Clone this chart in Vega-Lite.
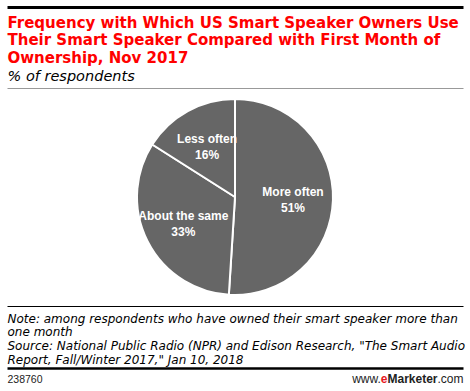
{
  "$schema": "https://vega.github.io/schema/vega-lite/v6.json",
  "width": 456,
  "height": 218,
  "autosize": {"type": "none"},
  "padding": {"left": 7, "right": 7, "top": 88, "bottom": 85},
  "background": "white",
  "config": {
    "view": {"stroke": null},
    "axis": {"grid": false, "ticks": false, "labels": false, "tickSize": 0}
  },
  "data": {
    "values": [
      {"category": "More often", "share": 0.51, "idx": 1},
      {"category": "About the same", "share": 0.33, "idx": 2},
      {"category": "Less often", "share": 0.16, "idx": 3}
    ]
  },
  "layer": [
    {
      "mark": {"type": "point", "opacity": 0},
      "encoding": {
        "x": {"field": "share", "type": "quantitative", "scale": {"domain": [0, 1], "nice": false, "zero": false},
          "axis": {"orient": "bottom", "offset": -299, "domain": true, "domainColor": "#000000", "domainWidth": 3,
            "title": ["Frequency with Which US Smart Speaker Owners Use", "Their Smart Speaker Compared with First Month of", "Ownership, Nov 2017"],
            "titleFont": "DejaVu Sans", "titleFontSize": 15, "titleFontWeight": "bold", "titleColor": "#ff0000",
            "titleLineHeight": 17.5, "titleAnchor": "start", "titleAlign": "left", "titleBaseline": "alphabetic", "titlePadding": 20}}
      }
    },
    {
      "mark": {"type": "point", "opacity": 0},
      "encoding": {
        "x": {"field": "share", "type": "quantitative", "scale": {"domain": [0, 1], "nice": false, "zero": false},
          "axis": {"orient": "top", "offset": 0, "domain": true, "domainColor": "#999999", "domainWidth": 1,
            "title": "% of respondents", "titleFont": "DejaVu Sans", "titleFontSize": 14.5, "titleFontStyle": "italic",
            "titleFontWeight": "normal", "titleColor": "#000000", "titleAnchor": "start", "titleAlign": "left",
            "titleBaseline": "alphabetic", "titlePadding": 8}}
      }
    },
    {
      "mark": {"type": "point", "opacity": 0},
      "encoding": {
        "x": {"field": "share", "type": "quantitative", "scale": {"domain": [0, 1], "nice": false, "zero": false},
          "axis": {"orient": "bottom", "offset": 0, "domain": true, "domainColor": "#000000", "domainWidth": 1,
            "title": ["Note: among respondents who have owned their smart speaker more than", "one month", "Source: National Public Radio (NPR) and Edison Research, \"The Smart Audio", "Report, Fall/Winter 2017,\" Jan 10, 2018"],
            "titleFont": "DejaVu Sans", "titleFontSize": 12, "titleFontStyle": "italic", "titleFontWeight": "normal",
            "titleColor": "#000000", "titleLineHeight": 13.8, "titleAnchor": "start", "titleAlign": "left",
            "titleBaseline": "alphabetic", "titlePadding": 16}}
      }
    },
    {
      "mark": {"type": "point", "opacity": 0},
      "encoding": {
        "x": {"field": "share", "type": "quantitative", "scale": {"domain": [0, 1], "nice": false, "zero": false},
          "axis": {"orient": "bottom", "offset": 62, "domain": true, "domainColor": "#000000", "domainWidth": 2.5,
            "title": null, "labels": true, "labelOverlap": false, "labelFlush": false, "labelBound": false,
            "values": [0, 0.81871, 0.83333, 0.94298, 1],
            "labelExpr": "datum.value == 0 ? '238760' : datum.value < 0.82 ? 'www.' : datum.value < 0.84 ? 'e' : datum.value < 0.95 ? 'Marketer' : '.com'",
            "labelFont": "Liberation Sans", "labelBaseline": "alphabetic", "labelPadding": 14,
            "labelAlign": {"condition": {"test": "datum.value == 0", "value": "left"}, "value": "right"},
            "labelFontSize": {"condition": {"test": "datum.value == 0", "value": 10.5}, "value": 12},
            "labelColor": {"condition": {"test": "datum.value > 0.82 && datum.value < 0.84", "value": "#e8171f"}, "value": "#222222"},
            "labelFontWeight": {"condition": {"test": "datum.value > 0.82 && datum.value < 0.95", "value": "bold"}, "value": "normal"}}}
      }
    },
    {
      "mark": {"type": "arc", "radius": 98, "fill": "#666666", "stroke": "white", "strokeWidth": 2},
      "encoding": {
        "theta": {"field": "share", "type": "quantitative", "stack": true},
        "detail": {"field": "category", "type": "nominal"},
        "order": {"field": "idx", "type": "quantitative"}
      }
    },
    {
      "mark": {"type": "text", "radius": 58, "dy": -7, "fill": "white", "font": "Liberation Sans", "fontWeight": "bold", "fontSize": 12},
      "encoding": {
        "theta": {"field": "share", "type": "quantitative", "stack": true},
        "detail": {"field": "category", "type": "nominal"},
        "order": {"field": "idx", "type": "quantitative"},
        "text": {"field": "category", "type": "nominal"}
      }
    },
    {
      "mark": {"type": "text", "radius": 58, "dy": 9, "fill": "white", "font": "Liberation Sans", "fontWeight": "bold", "fontSize": 12},
      "encoding": {
        "theta": {"field": "share", "type": "quantitative", "stack": true},
        "detail": {"field": "category", "type": "nominal"},
        "order": {"field": "idx", "type": "quantitative"},
        "text": {"field": "share", "type": "quantitative", "format": ".0%"}
      }
    }
  ],
  "resolve": {"scale": {"x": "independent"}, "axis": {"x": "independent"}}
}
